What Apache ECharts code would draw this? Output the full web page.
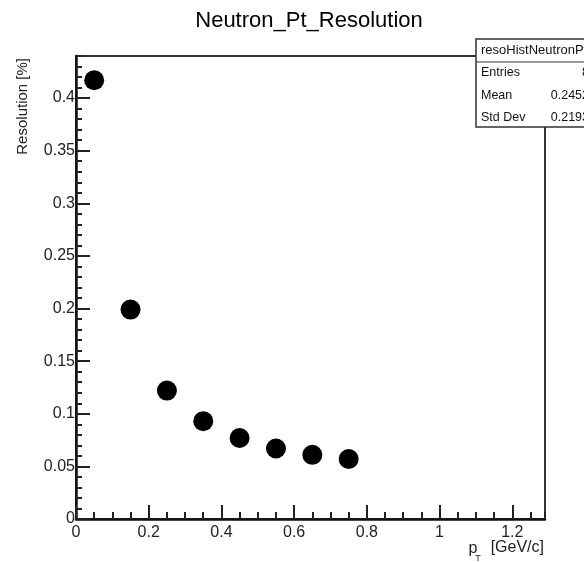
<!DOCTYPE html>
<html>
<head>
<meta charset="utf-8">
<script src="https://cdn.jsdelivr.net/npm/echarts@6/dist/echarts.min.js"></script>
<style>
    html, body { margin: 0; padding: 0; background: #fff; }
    #chart { width: 584px; height: 562px; }
</style>
</head>
<body>
<div id="chart"></div>
<script>
// bin centres (pT, GeV/c) and resolution values
var ptValues = [0.05, 0.15, 0.25, 0.35, 0.45, 0.55, 0.65, 0.75];
var resoValues = [0.417, 0.199, 0.122, 0.093, 0.077, 0.067, 0.061, 0.057];

// stats box
var statLabels = ['Entries', 'Mean', 'Std Dev'];
var statValues = ['8', '0.2452', '0.2193'];

var FONT = '"Liberation Sans", Arial, sans-serif';
var chart = echarts.init(document.getElementById('chart'));

var points = [];
for (var i = 0; i < ptValues.length; i++) {
    points.push([ptValues[i], resoValues[i]]);
}

var graphics = [
    {
        type: 'text', x: 309, y: 21,
        style: { text: 'Neutron_Pt_Resolution', font: '22px ' + FONT, fill: '#000', align: 'center', verticalAlign: 'middle' }
    },
    {
        type: 'text', x: 23, y: 58, rotation: Math.PI / 2,
        style: { text: 'Resolution [%]', font: '15px ' + FONT, fill: '#222', align: 'right', verticalAlign: 'middle' }
    },
    // x axis title p_T [GeV/c]
    { type: 'text', x: 473, y: 549, style: { text: 'p', font: '16px ' + FONT, fill: '#222', align: 'center', verticalAlign: 'middle' } },
    { type: 'text', x: 478, y: 559, style: { text: 'T', font: '9px ' + FONT, fill: '#222', align: 'center', verticalAlign: 'middle' } },
    { type: 'text', x: 544, y: 548, style: { text: '[GeV/c]', font: '16px ' + FONT, fill: '#222', align: 'right', verticalAlign: 'middle' } },
    // stats box
    {
        type: 'rect', z: 100, shape: { x: 476, y: 39, width: 150, height: 88 },
        style: { fill: '#fff', stroke: '#333', lineWidth: 1.5 }
    },
    { type: 'line', z: 101, shape: { x1: 476, y1: 62, x2: 600, y2: 62 }, style: { stroke: '#333', lineWidth: 1 } },
    { type: 'text', z: 101, x: 481, y: 50, style: { text: 'resoHistNeutronPt', font: '13px ' + FONT, fill: '#111', verticalAlign: 'middle' } }
];
var statY = [73, 96, 118];
for (var k = 0; k < statLabels.length; k++) {
    graphics.push({ type: 'text', z: 101, x: 481, y: statY[k], style: { text: statLabels[k], font: '12.5px ' + FONT, fill: '#111', verticalAlign: 'middle' } });
    graphics.push({ type: 'text', z: 101, x: 589, y: statY[k], style: { text: statValues[k], font: '12.5px ' + FONT, fill: '#111', align: 'right', verticalAlign: 'middle' } });
}

var option = {
    backgroundColor: '#fff',
    animation: false,
    grid: {
        left: 76, top: 56, right: 39, bottom: 43,
        show: true, borderColor: '#333', borderWidth: 2, backgroundColor: 'transparent'
    },
    xAxis: [
        {   // minor ticks
            type: 'value', min: 0, max: 1.29, interval: 0.05,
            axisLine: { show: true, onZero: false, lineStyle: { color: '#111', width: 2.5 } },
            axisTick: { inside: true, length: 7, lineStyle: { color: '#222', width: 2 } },
            axisLabel: { show: false },
            splitLine: { show: false }
        },
        {   // major ticks + labels
            type: 'value', min: 0, max: 1.29, interval: 0.2, position: 'bottom', offset: 0,
            axisLine: { show: false },
            axisTick: { inside: true, length: 14, lineStyle: { color: '#222', width: 2 } },
            axisLabel: {
                margin: 6, fontSize: 16, fontFamily: FONT, color: '#222', showMaxLabel: false,
                formatter: function (v) { return +v.toFixed(2) + ''; }
            },
            splitLine: { show: false }
        }
    ],
    yAxis: [
        {
            type: 'value', min: 0, max: 0.44, interval: 0.01,
            axisLine: { show: true, onZero: false, lineStyle: { color: '#111', width: 2.5 } },
            axisTick: { inside: true, length: 6, lineStyle: { color: '#222', width: 2 } },
            axisLabel: { show: false },
            splitLine: { show: false }
        },
        {
            type: 'value', min: 0, max: 0.44, interval: 0.05, position: 'left', offset: 0,
            axisLine: { show: false },
            axisTick: { inside: true, length: 14, lineStyle: { color: '#222', width: 2 } },
            axisLabel: {
                margin: 1, fontSize: 16, fontFamily: FONT, color: '#222', showMaxLabel: false,
                formatter: function (v) { return +v.toFixed(2) + ''; }
            },
            splitLine: { show: false }
        }
    ],
    series: [{
        type: 'scatter',
        xAxisIndex: 0, yAxisIndex: 0,
        symbol: 'circle',
        symbolSize: 20,
        itemStyle: { color: '#000', opacity: 1 },
        data: points
    }],
    graphic: graphics
};
chart.setOption(option);
</script>
</body>
</html>
